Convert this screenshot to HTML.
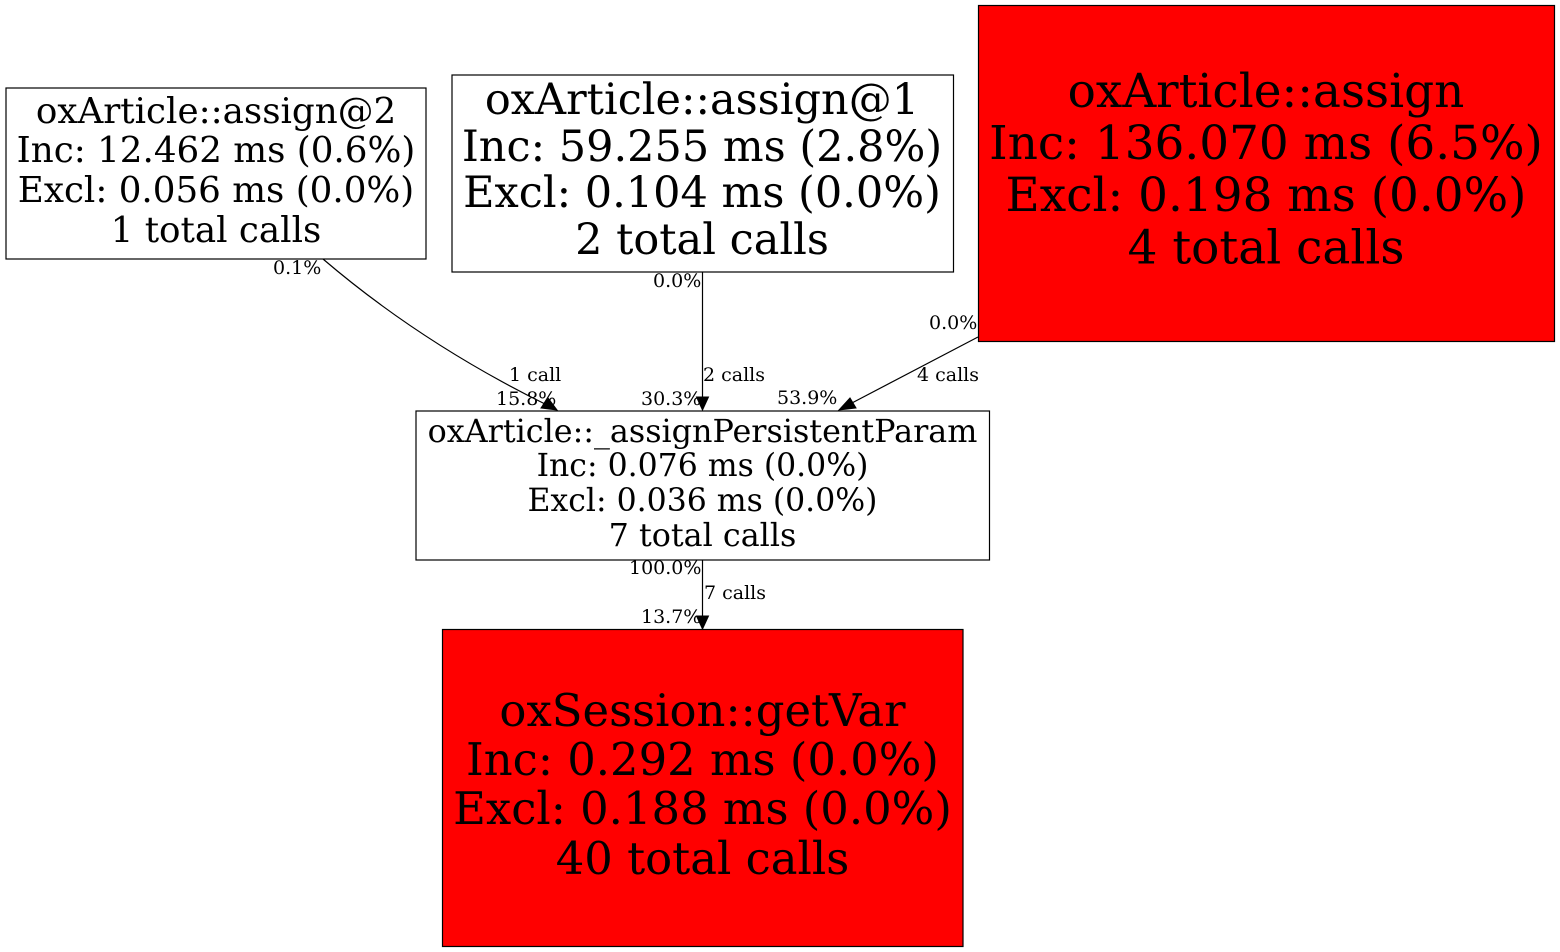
<!DOCTYPE html>
<html>
<head>
<meta charset="utf-8">
<style>
html,body{margin:0;padding:0;background:#fff;}
svg{display:block;}
text{font-family:"DejaVu Serif",serif;fill:#000;}
</style>
</head>
<body>
<svg width="1560" height="952" viewBox="0 0 1560 952" xmlns="http://www.w3.org/2000/svg">
<rect width="1560" height="952" fill="#fff"/>
<!-- edges -->
<g fill="none" stroke="#000" stroke-width="1.2">
<path d="M323 259C385 312 460 362 545 404"/>
<path d="M702.500 272V398"/>
<path d="M978 337L850 404"/>
<path d="M702.500 560V617"/>
</g>
<g fill="#000" stroke="#000" stroke-width="1">
<polygon points="557,410 541,408 548,398"/>
<polygon points="702.500,410 696.500,397 708.500,397"/>
<polygon points="839,410 850,398 856,408"/>
<polygon points="702.500,629 696.500,616 708.500,616"/>
</g>
<!-- nodes -->
<g stroke="#000" stroke-width="1.2">
<rect x="6" y="88" width="420" height="171" fill="#fff"/>
<rect x="452" y="75" width="501.500" height="197" fill="#fff"/>
<rect x="978.500" y="5.500" width="576" height="336" fill="#f00"/>
<rect x="416" y="411" width="573.500" height="149" fill="#fff"/>
<rect x="442.500" y="629.500" width="520.500" height="317" fill="#f00"/>
</g>
<!-- node 1 -->
<g font-size="35.700">
<text x="216" y="123" text-anchor="middle">oxArticle::assign@2</text>
<text x="216" y="162" text-anchor="middle">Inc: 12.462 ms (0.6%)</text>
<text x="216" y="202" text-anchor="middle">Excl: 0.056 ms (0.0%)</text>
<text x="216" y="242" text-anchor="middle">1 total calls</text>
</g>
<!-- node 2 -->
<g font-size="43">
<text x="702" y="114" text-anchor="middle">oxArticle::assign@1</text>
<text x="702" y="161" text-anchor="middle">Inc: 59.255 ms (2.8%)</text>
<text x="702" y="207" text-anchor="middle">Excl: 0.104 ms (0.0%)</text>
<text x="702" y="254" text-anchor="middle">2 total calls</text>
</g>
<!-- node 3 -->
<g font-size="46.900">
<text x="1266" y="107" text-anchor="middle">oxArticle::assign</text>
<text x="1266" y="159" text-anchor="middle">Inc: 136.070 ms (6.5%)</text>
<text x="1266" y="211" text-anchor="middle">Excl: 0.198 ms (0.0%)</text>
<text x="1266" y="263.500" text-anchor="middle">4 total calls</text>
</g>
<!-- node 4 -->
<g font-size="31.800">
<text x="702.500" y="442" text-anchor="middle">oxArticle::_assignPersistentParam</text>
<text x="702.500" y="476" text-anchor="middle" font-size="31.500">Inc: 0.076 ms (0.0%)</text>
<text x="702.500" y="511" text-anchor="middle" font-size="31.500">Excl: 0.036 ms (0.0%)</text>
<text x="702.500" y="546" text-anchor="middle">7 total calls</text>
</g>
<!-- node 5 -->
<g font-size="44.900">
<text x="702.500" y="726" text-anchor="middle">oxSession::getVar</text>
<text x="702.500" y="775" text-anchor="middle">Inc: 0.292 ms (0.0%)</text>
<text x="702.500" y="824" text-anchor="middle">Excl: 0.188 ms (0.0%)</text>
<text x="702.500" y="874" text-anchor="middle">40 total calls</text>
</g>
<!-- edge labels -->
<g font-size="19">
<text x="273" y="274">0.1%</text>
<text x="653" y="287">0.0%</text>
<text x="929" y="329">0.0%</text>
<text x="509" y="381">1 call</text>
<text x="703" y="381">2 calls</text>
<text x="917" y="381">4 calls</text>
<text x="496" y="405">15.8%</text>
<text x="641" y="405">30.3%</text>
<text x="777" y="404">53.9%</text>
<text x="629" y="574">100.0%</text>
<text x="704" y="599">7 calls</text>
<text x="641" y="623">13.7%</text>
</g>
</svg>
</body>
</html>
